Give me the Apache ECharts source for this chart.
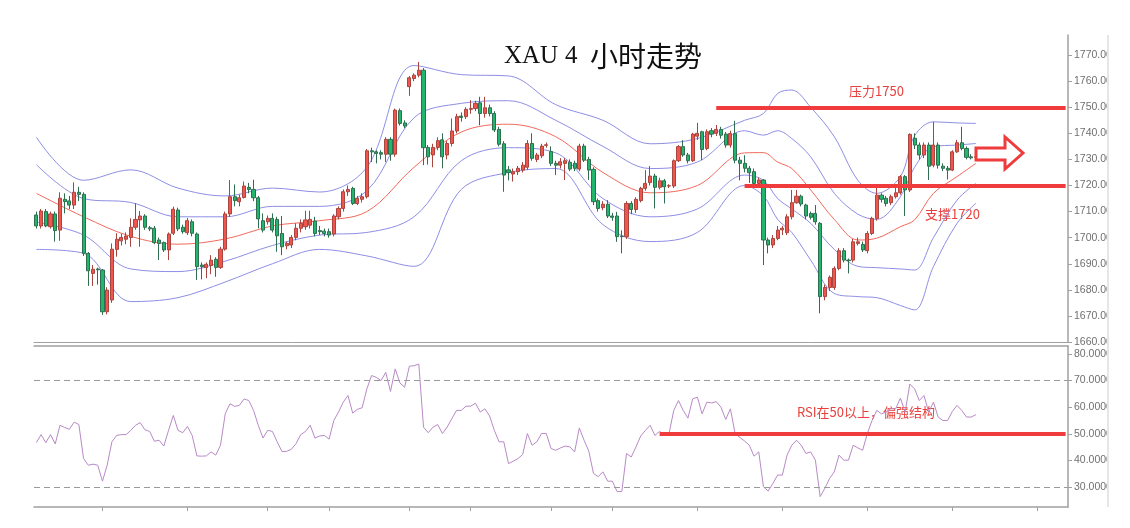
<!DOCTYPE html>
<html>
<head>
<meta charset="utf-8">
<script src="https://cdn.jsdelivr.net/npm/echarts@6/dist/echarts.min.js"></script>
<style>
html,body{margin:0;padding:0;background:#fff;}
#c{width:1130px;height:528px;}
</style>
</head>
<body>
<div id="c"></div>
<script>
// ---- data ----
const slotCount = 219;
// [open, close, low, high]
const candles = [
[1708.7,1704.5,1703.5,1710],[1704.5,1710.2,1703.5,1711],[1710.0,1704.5,1704,1711],[1704.2,1709.1,1703.5,1710],
[1709.1,1702.7,1698.5,1710],[1702.9,1715.1,1698.8,1717.4],[1714.7,1713.8,1709.3,1717.0],[1714.1,1712.5,1711,1716],
[1712.5,1717.4,1711,1721.2],[1717.4,1716.6,1714,1719.5],[1716.6,1694.0,1693.0,1717.4],[1694.0,1687.3,1681.5,1694.5],
[1686.3,1687.9,1681.5,1689.5],[1688.0,1687.7,1682,1688.5],[1687.6,1671.6,1670.4,1688],[1671.6,1679.9,1670.6,1681],
[1676.1,1695.6,1675,1697.8],[1695.5,1699.4,1692.7,1701.7],[1698.8,1700.1,1697,1701.5],[1699.4,1700.6,1697.5,1702],
[1700.1,1704.0,1696.5,1707.4],[1704.0,1707.0,1703,1713.2],[1706.8,1708.3,1696.5,1710.2],[1708.3,1704.0,1703,1709],
[1703.8,1703.4,1702.5,1704.5],[1703.6,1698.1,1697.5,1704.5],[1699.1,1697.8,1691.4,1700],[1698.1,1695.3,1694.5,1698.5],
[1695.3,1701.4,1691.4,1702],[1701.7,1710.9,1701,1711.9],[1710.6,1703.4,1702.5,1711.5],[1704.0,1702.3,1701.5,1705],
[1701.9,1706.5,1701,1707.5],[1706.1,1701.7,1700.5,1707],[1701.4,1688.9,1683.8,1702],[1689.5,1688.9,1684,1690.5],
[1688.5,1689.8,1684.5,1690.5],[1689.3,1691.4,1686,1693.3],[1691.7,1688.6,1685.0,1692.5],[1688.6,1695.6,1688,1696.5],
[1695.6,1709.1,1695,1710],[1709.1,1715.7,1708,1722.1],[1715.7,1714.2,1712,1720.4],[1713.8,1715.3,1712,1716.5],
[1715.4,1719.8,1715,1721.5],[1719.3,1718.5,1717,1721],[1718.5,1715.3,1714,1722.2],[1715.3,1707.2,1703.6,1716],
[1706.5,1702.9,1702,1709.3],[1706.1,1707.4,1705,1708.5],[1707.4,1702.9,1702,1709.3],[1707.0,1700.7,1694.6,1708],
[1701.6,1696.5,1693.3,1708.3],[1696.9,1697.8,1695.5,1698.5],[1697.2,1700.1,1696,1701],[1700.1,1703.6,1699,1705.5],
[1703.6,1705.5,1702,1707],[1704.2,1706.8,1703,1710.3],[1704.8,1707.0,1703.5,1710.3],[1706.4,1701.6,1700.5,1708],
[1702.7,1702.3,1701,1704.5],[1702.5,1701.6,1700.5,1703.5],[1702.3,1701.0,1700,1703.5],[1701.4,1708.3,1700.5,1709],
[1708.0,1711.2,1707,1712],[1711.2,1717.6,1710,1718.5],[1717.6,1718.5,1716,1720],[1718.9,1713.1,1712.5,1719.5],
[1713.1,1715.1,1712.5,1716],[1714.7,1715.7,1713.5,1717],[1715.7,1733.3,1715,1734],[1733.3,1732.9,1729,1734.5],
[1732.9,1732.3,1728.5,1733.5],[1732.6,1732.0,1730,1733.5],[1732.0,1737.7,1729,1738.5],[1737.7,1732.0,1729.5,1738.5],
[1732.0,1748.9,1731,1749.5],[1748.7,1743.8,1743,1749.5],[1744.0,1742.8,1742,1745],[1757.9,1761.3,1754.4,1762],
[1761.0,1762.3,1760,1763],[1762.3,1764.2,1761.5,1767.4],[1764.2,1734.5,1727.8,1765],[1734.6,1731.0,1728,1735.5],
[1731.7,1734.6,1727,1736],[1734.6,1737.2,1733.5,1738.5],[1737.5,1731.0,1726.6,1740],[1731.7,1736.1,1730,1737],
[1736.1,1740.9,1735,1745.7],[1740.9,1746.4,1740,1747.5],[1746.6,1746.1,1744.5,1748],[1746.4,1749.2,1745.5,1750],
[1749.2,1749.5,1747.5,1752.7],[1749.5,1751.5,1748.5,1752.5],[1751.7,1747.6,1743.1,1754.0],[1747.6,1749.8,1746,1754.0],
[1749.8,1747.6,1746.5,1751],[1747.6,1741.3,1740.5,1748.5],[1741.5,1735.8,1735,1742.5],[1736,1724,1717.6,1737],
[1726,1725,1722,1727.5],[1724.4,1725.3,1721.5,1726.5],[1725.3,1726.6,1724,1727.5],[1725.9,1727.8,1725,1729],
[1727.0,1736.1,1726,1737.4],[1736.1,1730.4,1729.5,1740],[1730.0,1731.7,1729,1732.5],[1731.4,1735.1,1730.5,1736],
[1735.4,1735.6,1734.5,1736.5],[1733,1728.5,1727.5,1735],[1728.5,1727.8,1724.0,1729.5],[1727.8,1729.1,1726.5,1730.5],
[1728.5,1729.5,1722.1,1730.5],[1728.9,1726.3,1725.5,1730],[1728.5,1726.6,1725.5,1729.5],[1726.3,1735.1,1725.5,1736],
[1735.1,1729.7,1729,1736],[1730.0,1725.9,1722.1,1731],[1726.2,1713.8,1712.5,1727],[1714.2,1711.2,1710,1715],
[1711.5,1712.8,1710.5,1714],[1712.8,1708.3,1707.5,1714.4],[1708.3,1707.8,1706.5,1709.5],[1708.3,1700.4,1698.4,1709.9],
[1700.6,1700.4,1694,1702.8],[1700.4,1713.1,1699.5,1714],[1713.1,1710.8,1709,1714],[1710.8,1714.7,1709.5,1715.5],
[1714.2,1718.9,1713.5,1719.5],[1718.9,1720.8,1718,1725.9],[1721.1,1723.6,1720,1727.5],[1723.6,1719.3,1711.2,1724.5],
[1719.3,1721.8,1718.5,1723],[1721.8,1719.5,1713.1,1722.5],[1719.8,1719.9,1719,1720.5],[1719.8,1729.5,1719,1730],
[1729.5,1734.9,1729,1735.5],[1734.9,1731.7,1731,1737.4],[1731.7,1729.5,1728.5,1732.5],[1729.5,1739.7,1729,1740.2],
[1738.9,1740.0,1737.5,1744.0],[1740.6,1733.8,1729.7,1741],[1734.2,1740.6,1733.5,1741.5],[1741.0,1739.7,1738.5,1742],
[1740,1741.5,1739,1743.2],[1741.5,1739.3,1738,1742.5],[1739.7,1735.5,1734.5,1740.5],[1735.5,1739.9,1734.5,1741],
[1739.9,1729.7,1728.5,1744.8],[1729.7,1728.5,1722,1731],[1728.5,1726.6,1725,1731.6],[1726.6,1724.9,1721,1727.5],
[1725.3,1720.8,1720,1726.5],[1720.8,1722.1,1719,1723],[1722.1,1699.1,1689.5,1722.5],[1699.1,1697.2,1694,1700],
[1697.2,1699.7,1696,1701],[1699.7,1702.9,1699,1704.5],[1703.0,1703.6,1701,1704.5],[1701.9,1708.0,1701,1709],
[1708.0,1713.4,1707,1718.3],[1713.4,1715.9,1713,1718.3],[1715.9,1712.9,1712,1716.5],[1712.5,1708.3,1707,1713],
[1709.3,1707.8,1707,1710],[1709.3,1706.1,1705,1712.5],[1705.5,1677.4,1671.0,1706],[1677.4,1680.9,1676,1682],
[1680.9,1684.8,1679.5,1685.5],[1680.9,1688.2,1680,1689],[1688.2,1695.0,1687.5,1696],[1695.0,1691.4,1690.5,1696],
[1691.4,1691.2,1686.3,1692],[1691.4,1698.4,1690.5,1699.5],[1697.8,1698.4,1697,1700],[1697.4,1695.3,1694.5,1698.5],
[1695.0,1701.6,1694,1702.5],[1701.6,1707.4,1701,1708],[1707.4,1716.3,1706.5,1720.3],[1716.3,1714.7,1713.5,1717],
[1715.1,1713.1,1712,1716],[1713.4,1715.7,1712.5,1716.5],[1715.7,1717.2,1715,1720],[1717.2,1723.4,1716.5,1724],
[1723.4,1718.3,1708.3,1724],[1718.3,1739.6,1717.5,1740],[1738.1,1735.5,1734,1740],[1735.5,1731.7,1730,1736.5],
[1731.7,1735.5,1730.5,1736.5],[1735.5,1727.4,1722.1,1736.5],[1727.8,1735.5,1727,1744.4],[1735.5,1727.8,1726.5,1736.5],
[1727.4,1726.6,1725.5,1728.5],[1726.6,1725.9,1722.3,1727.5],[1725.9,1732.9,1725.5,1733.5],[1732.9,1736.4,1732.5,1737.5],
[1736.4,1734.2,1733.5,1742.5],[1734.2,1730.8,1730,1735],[1731.0,1730.6,1730,1732],[1730.8,1731.0,1730.3,1731.5]
];
const rsiValues = [
46.7,49.7,46.7,49.7,46.2,53.2,52.4,51.7,54.4,53.5,
40.7,38.2,38.6,38.2,32.2,38.2,47.0,49.4,49.7,49.7,
51.3,53.2,54.2,51.5,50.9,47.2,47.6,45.4,51.3,56.9,
51.3,50.4,52.8,49.4,41.7,41.6,41.7,43.2,42.0,45.7,
57.5,61.3,60.3,60.7,63.1,62.5,58.8,53.2,48.4,51.3,
50.9,47.0,43.4,43.4,44.2,46.3,49.7,50.9,53.2,48.4,
49.2,49.4,48.0,55.0,58.2,61.9,64.4,57.8,59.2,59.8,
66.9,71.9,71.2,70.0,73.1,65.9,74.4,69.1,67.5,75.4,
75.6,76.2,52.5,50.4,52.5,53.5,50.1,52.5,55.7,58.8,
58.8,60.4,60.4,61.5,58.2,59.4,56.7,51.3,47.0,47.0,
38.8,39.7,40.7,42.2,50.1,45.7,47.0,50.1,50.1,44.5,
43.8,44.7,45.4,45.1,43.2,52.2,47.6,43.5,35.1,33.9,
35.7,32.2,32.2,28.3,28.3,42.6,41.3,45.1,49.2,51.3,
53.2,49.4,50.9,49.7,50.1,58.8,62.5,58.8,55.9,63.1,
63.8,57.5,61.9,61.6,62.1,60.0,55.4,59.4,50.1,48.6,
47.3,45.7,41.6,43.2,30.1,28.5,31.4,34.5,34.5,42.0,
45.7,47.6,45.7,42.6,43.2,40.1,26.4,29.5,33.2,35.7,
42.0,40.1,40.1,45.7,44.7,43.8,50.1,55.0,58.8,57.5,
58.2,59.4,59.4,63.4,58.2,68.7,66.9,62.5,64.4,58.2,
61.9,56.3,55.0,55.0,58.4,60.7,58.8,56.3,56.3,57.2
];
// Bollinger band readings at sampled candle indices
const bandIndex      = [0,10,20,30,40,50,60,70,80,90,100,110,120,130,140,150,154,157,160,164,169,174,178,183,186,190,195,199];
const bandOuterUpper = [1738.5,1722,1726,1719,1716,1719,1717.5,1727,1766,1762.5,1762,1751,1745,1736,1738,1745,1747.6,1755.3,1756.6,1750,1738.7,1722,1717,1723.4,1739,1744.4,1744,1743.8];
const bandInnerUpper = [1728,1715,1713.5,1708,1708,1712,1712,1718,1746,1751.5,1752.5,1745,1735,1726.5,1729,1741,1739.3,1741,1738,1731,1717,1709,1707,1715.7,1727,1734.9,1735.5,1736.1];
const bandMiddle     = [1717,1708,1700.5,1697.5,1699.5,1704.5,1706.5,1710,1727,1740.5,1743.5,1738.7,1725,1717.2,1720,1732.5,1732.6,1729,1726.5,1718.3,1707,1699.1,1699.8,1704.2,1706.8,1717,1723.4,1728.5];
const bandInnerLower = [1706,1701,1688,1687,1691,1697,1701,1702,1708,1729.5,1734.5,1732.5,1715,1708,1711,1724,1722,1715,1711,1705.5,1695.5,1689,1688.5,1688,1687.6,1700,1714.4,1720.8];
const bandOuterLower = [1695.5,1694,1675.5,1677,1683,1690,1695.5,1693,1689,1718.5,1725,1726.5,1705,1698.5,1702,1720,1716,1707,1702,1691.4,1678.6,1677.4,1677,1674,1672.3,1688.9,1705.5,1713.2];
const priceTicks = [1660,1670,1680,1690,1700,1710,1720,1730,1740,1750,1760,1770];
const rsiTicks = [30,40,50,60,70,80];
const periodTickIdx = [14,32,49,62,79,92,109,122,140,158,176,194,212];
const resistanceLevel = 1750, resistanceFrom = 144;
const supportLevel = 1720, supportFrom = 150;
const rsiMid = 50, rsiMidFrom = 132;
const rsiBands = [70, 30];

// ---- build ----
const categories = Array.from({length: slotCount}, (_, i) => String(i));
const pairs = arr => bandIndex.map((ix, k) => [ix, arr[k]]);
const lastSlot = slotCount - 1;

const RED = '#ef3b3b';
const PURPLE = '#8e8ee6';
const chart = echarts.init(document.getElementById('c'), null, {renderer: 'canvas'});

const bandLine = (name, arr, color) => ({
  name, type: 'line', xAxisIndex: 0, yAxisIndex: 0, data: pairs(arr),
  smooth: 0.35, symbol: 'none', silent: true,
  lineStyle: {color, width: 1}, z: 1
});

const labelFont = '"Liberation Sans",Arial,sans-serif';

chart.setOption({
  animation: false,
  backgroundColor: '#fff',
  title: {
    text: '{a|XAU }{b|4 }{c|小时走势}', left: 499, top: 37,
    textStyle: {
      fontWeight: 'normal',
      rich: {
        a: {fontFamily: '"Liberation Serif",serif', fontSize: 25, fontWeight: 'normal', color: '#111', width: 61},
        b: {fontFamily: '"Liberation Serif",serif', fontSize: 25, fontWeight: 'normal', color: '#111', width: 25},
        c: {fontFamily: '"Noto Sans CJK SC",sans-serif', fontSize: 28, fontWeight: 'normal', color: '#111'}
      }
    }
  },
  grid: [
    {left: 34, right: 62, top: 35, bottom: 186},
    {left: 34, right: 62, top: 346, bottom: 21}
  ],
  xAxis: [
    {type: 'category', gridIndex: 0, data: categories, boundaryGap: true,
     axisLine: {show: true, lineStyle: {color: '#a0a0a0', width: 1}}, axisTick: {show: false}, axisLabel: {show: false}, splitLine: {show: false}},
    {type: 'category', gridIndex: 1, data: categories, boundaryGap: true,
     axisLine: {show: true, lineStyle: {color: '#a0a0a0', width: 1.5}},
     axisTick: {show: true, alignWithLabel: true, length: 4, lineStyle: {color: '#a0a0a0'}, interval: (i) => periodTickIdx.includes(i)},
     axisLabel: {show: false}, splitLine: {show: false}},
    {type: 'category', gridIndex: 1, position: 'top', data: categories, boundaryGap: true,
     axisLine: {show: true, lineStyle: {color: '#a0a0a0', width: 1.5}}, axisTick: {show: false}, axisLabel: {show: false}}
  ],
  yAxis: [
    {type: 'value', gridIndex: 0, position: 'right', min: 1660, max: 1777.7,
     axisLine: {show: true, lineStyle: {color: '#a0a0a0', width: 1.5}},
     axisTick: {show: true, length: 4, customValues: priceTicks, lineStyle: {color: '#a0a0a0'}},
     axisLabel: {customValues: priceTicks, formatter: v => v.toFixed(2), color: '#707070', fontSize: 10.5, margin: 6, fontFamily: labelFont},
     splitLine: {show: false}},
    {type: 'value', gridIndex: 1, position: 'right', min: 22.5, max: 83,
     axisLine: {show: true, lineStyle: {color: '#a0a0a0', width: 1.5}},
     axisTick: {show: true, length: 4, customValues: rsiTicks, lineStyle: {color: '#a0a0a0'}},
     axisLabel: {customValues: rsiTicks, formatter: v => v.toFixed(4), color: '#707070', fontSize: 10.5, margin: 6, fontFamily: labelFont},
     splitLine: {show: false}}
  ],
  series: [
    bandLine('上轨2', bandOuterUpper, PURPLE),
    bandLine('上轨1', bandInnerUpper, PURPLE),
    bandLine('中轨', bandMiddle, '#f26a5c'),
    bandLine('下轨1', bandInnerLower, PURPLE),
    bandLine('下轨2', bandOuterLower, PURPLE),
    {
      name: 'XAU', type: 'candlestick', xAxisIndex: 0, yAxisIndex: 0, data: candles, barWidth: 3.6, z: 3,
      itemStyle: {color: '#f0564d', color0: '#22b56c', borderColor: '#a8453f', borderColor0: '#2f6e50', borderWidth: 1},
      markLine: {
        symbol: 'none', silent: true, label: {show: false}, animation: false,
        lineStyle: {color: RED, width: 4, type: 'solid'},
        data: [
          [{coord: [resistanceFrom, resistanceLevel]}, {coord: [lastSlot, resistanceLevel]}],
          [{coord: [supportFrom, supportLevel]}, {coord: [lastSlot, supportLevel]}]
        ]
      }
    },
    {
      name: 'RSI', type: 'line', xAxisIndex: 1, yAxisIndex: 1, data: rsiValues, symbol: 'none',
      lineStyle: {color: '#b88ac6', width: 1}, z: 3,
      markLine: {
        symbol: 'none', silent: true, label: {show: false}, animation: false,
        data: [
          {yAxis: rsiBands[0], lineStyle: {color: '#9a9a9a', width: 1, type: [6, 4]}},
          {yAxis: rsiBands[1], lineStyle: {color: '#9a9a9a', width: 1, type: [6, 4]}},
          [{coord: [rsiMidFrom, rsiMid], lineStyle: {color: RED, width: 4, type: 'solid'}}, {coord: [lastSlot, rsiMid]}]
        ]
      }
    }
  ],
  graphic: [
    {type: 'text', left: 849, top: 85, style: {text: '压力1750', fill: '#e8403c', font: '13px "Noto Sans CJK SC", sans-serif'}},
    {type: 'text', left: 925, top: 208, style: {text: '支撑1720', fill: '#e8403c', font: '13px "Noto Sans CJK SC", sans-serif'}},
    {type: 'text', left: 797, top: 406, style: {text: 'RSI在50以上，偏强结构', fill: '#e8403c', font: '13px "Noto Sans CJK SC", sans-serif'}},
    {type: 'polygon', z: 10, shape: {points: [[976,148],[1005,148],[1005,137],[1023,153],[1005,169],[1005,160],[976,160]]},
     style: {fill: '#fff', stroke: RED, lineWidth: 3}},
    // right-edge frame of the original screenshot that clips the axis labels
    {type: 'rect', z: 100, shape: {x: 1109, y: 0, width: 21, height: 528}, style: {fill: '#fff'}},
    {type: 'rect', z: 101, shape: {x: 1107, y: 35, width: 2, height: 472}, style: {fill: '#e6e6e6'}}
  ]
});
</script>
</body>
</html>
